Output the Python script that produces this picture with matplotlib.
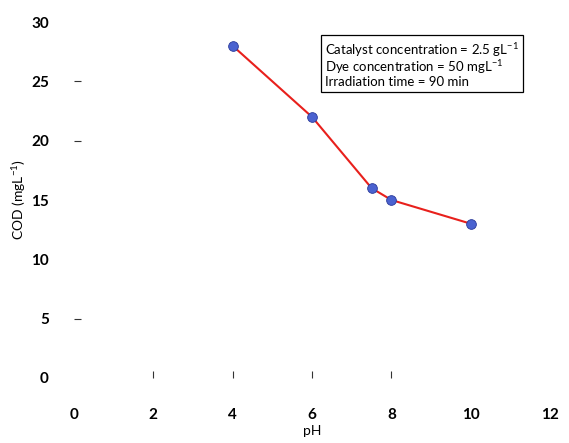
import matplotlib.pyplot as plt

# Données
ph = [4, 6, 7.5, 8, 10]
cod = [28, 22, 16, 15, 13]
xticks = [0, 2, 4, 6, 8, 10, 12]
yticks = [0, 5, 10, 15, 20, 25, 30]
conditions = ["Catalyst concentration = 2.5 gL$^{-1}$",
              "Dye concentration = 50 mgL$^{-1}$",
              "Irradiation time = 90 min"]

plt.rcParams['font.family'] = ['Lato', 'DejaVu Sans']
plt.rcParams['mathtext.fontset'] = 'custom'
plt.rcParams['mathtext.rm'] = 'Lato'
plt.rcParams['mathtext.it'] = 'Lato'
plt.rcParams['mathtext.default'] = 'regular'

fig = plt.figure(figsize=(5.69, 4.43), dpi=100)
ax = fig.add_axes([0.130, 0.147, 0.837, 0.803])

ax.plot(ph, cod, color='#e8201c', lw=1.5, zorder=2)
ax.plot(ph, cod, 'o', ms=7, mfc='#4a62d0', mec='#2a3a9a', mew=0.6, zorder=3)

ax.set_xlim(0, 12)
ax.set_ylim(0, 30)
ax.set_xticks(xticks)
ax.set_yticks(yticks)
ax.tick_params(axis='both', which='major', length=0, labelsize=11)
ax.tick_params(axis='x', pad=22)
ax.tick_params(axis='y', pad=18)
for lab in ax.get_xticklabels() + ax.get_yticklabels():
    lab.set_fontweight('bold')

# petites marques visibles sur l'image
ax.xaxis.remove_overlapping_locs = False
ax.yaxis.remove_overlapping_locs = False
ax.set_xticks([2, 4, 6, 8], minor=True)
ax.set_yticks([5, 20, 25], minor=True)
ax.tick_params(which='minor', direction='in', length=5, width=0.8, color='#333333')

for s in ax.spines.values():
    s.set_visible(False)

ax.set_xlabel('pH', fontsize=10, labelpad=2)
ax.set_ylabel('COD (mgL$^{-1}$)', fontsize=10, labelpad=2)

ax.text(0.528, 0.948, "\n".join(conditions), transform=ax.transAxes,
        fontsize=9.5, va='top', ha='left', linespacing=1.0,
        bbox=dict(boxstyle='square,pad=0.3', fc='white', ec='black', lw=0.9))

plt.savefig('out.png', dpi=100)
